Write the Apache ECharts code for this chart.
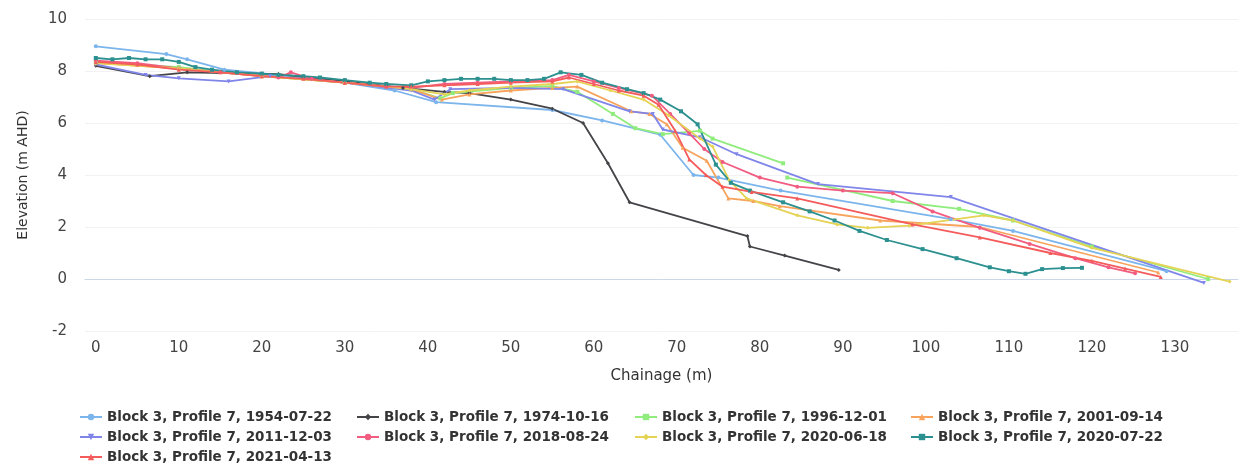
<!DOCTYPE html>
<html>
<head>
<meta charset="utf-8">
<script src="https://cdn.jsdelivr.net/npm/echarts@6/dist/echarts.min.js"></script>
<style>
html,body{margin:0;padding:0;background:#fff;}
#chart{width:1241px;height:469px;}
</style>
</head>
<body>
<div id="chart"></div>
<script>
// ---- data ----
const seriesNames = [
  "Block 3, Profile 7, 1954-07-22",
  "Block 3, Profile 7, 1974-10-16",
  "Block 3, Profile 7, 1996-12-01",
  "Block 3, Profile 7, 2001-09-14",
  "Block 3, Profile 7, 2011-12-03",
  "Block 3, Profile 7, 2018-08-24",
  "Block 3, Profile 7, 2020-06-18",
  "Block 3, Profile 7, 2020-07-22",
  "Block 3, Profile 7, 2021-04-13"
];
const xTickLabels = [0,10,20,30,40,50,60,70,80,90,100,110,120,130];

const p1954 = [[0,8.95],[8.5,8.65],[11,8.45],[15.5,8.05],[22,7.85],[30,7.55],[36,7.25],[41,6.8],[55,6.5],[61,6.1],[68,5.55],[72,4.0],[75,3.9],[82.5,3.4],[103,2.3],[110.5,1.85],[129,0.3]];
const p1974 = [[0,8.2],[6.5,7.8],[11,7.95],[22,7.88],[30,7.6],[37,7.35],[42,7.2],[45,7.15],[50,6.9],[55,6.55],[58.7,6.0],[61.7,4.45],[64.3,2.95],[78.5,1.65],[78.8,1.25],[83,0.9],[89.5,0.35]];
const p1996 = [[0,8.35],[10,8.15],[20,7.8],[30,7.55],[38,7.3],[41.5,6.95],[43,7.15],[50,7.35],[55,7.42],[58,7.2],[62.3,6.35],[65,5.8],[68.3,5.57],[72.8,5.7],[74.3,5.4],[82.8,4.45],[83,null],[83.3,3.9],[96,3.0],[104,2.7],[110.5,2.25],[120,1.25],[134,0.0]];
const p2001 = [[0,8.3],[10,8.1],[20,7.8],[30,7.55],[38,7.3],[41.7,6.9],[45,7.1],[50,7.25],[55,7.35],[58,7.4],[64.5,6.45],[66.7,6.35],[68.8,5.95],[70.7,5.05],[73.6,4.55],[76.2,3.1],[79.2,3.0],[82.4,2.8],[94.5,2.25],[106.5,2.0],[128,0.25]];
const p2011 = [[0,8.25],[6,7.85],[10,7.72],[16,7.6],[21,7.8],[30,7.55],[38,7.25],[40.8,6.9],[42.7,7.3],[50,7.35],[56.3,7.3],[64.3,6.45],[67.1,6.35],[68.3,5.75],[72.8,5.45],[77.2,4.8],[87,3.65],[103,3.15],[133.5,-0.15]];
const p2018 = [[0,8.4],[5,8.3],[10,8.1],[15,7.95],[20,7.8],[22,7.75],[23.5,7.95],[26,7.7],[30,7.55],[35,7.4],[38,7.35],[42,7.5],[46,7.55],[50,7.6],[55,7.65],[57,7.85],[60,7.6],[63,7.35],[67,7.05],[69.2,6.35],[71.5,5.6],[73.3,5.0],[75.5,4.5],[80,3.9],[84.5,3.55],[90,3.4],[96,3.3],[100.8,2.6],[106.5,1.97],[112.5,1.35],[118,0.8],[122,0.45],[125.2,0.22]];
const p2020a = [[0,8.3],[10,8.1],[20,7.8],[30,7.55],[38,7.3],[42,7.1],[45,7.25],[50,7.4],[55,7.5],[58,7.6],[62,7.25],[66,6.9],[69,6.3],[72.8,5.4],[74.3,5.1],[76.3,3.8],[78.4,3.1],[84.5,2.45],[89.3,2.1],[93,1.97],[98,2.05],[107,2.45],[110.5,2.25],[120,1.2],[136.6,-0.1]];
const p2020b = [[0,8.5],[2,8.45],[4,8.5],[6,8.45],[8,8.45],[10,8.35],[12,8.15],[14,8.05],[17,7.95],[20,7.9],[22,7.85],[25,7.8],[27,7.75],[30,7.65],[33,7.55],[35,7.5],[38,7.45],[40,7.6],[42,7.65],[44,7.7],[46,7.7],[48,7.7],[50,7.65],[52,7.65],[54,7.7],[56,7.95],[58.5,7.85],[61,7.55],[64,7.3],[66,7.15],[68,6.9],[70.5,6.45],[72.5,5.95],[74.7,4.4],[76.5,3.7],[78.8,3.4],[82.8,2.95],[86,2.6],[89,2.25],[92,1.85],[95.3,1.5],[99.6,1.15],[103.7,0.8],[107.7,0.45],[110,0.3],[112,0.2],[114,0.38],[116.5,0.42],[118.8,0.43]];
const p2021 = [[0,8.35],[5,8.25],[10,8.05],[15,7.95],[20,7.8],[25,7.7],[30,7.55],[35,7.4],[38,7.4],[42,7.45],[46,7.5],[50,7.55],[55,7.6],[57,7.75],[60,7.5],[63,7.25],[66,7.05],[67.8,6.7],[69.8,5.7],[71.5,4.6],[73.5,4.0],[75.5,3.55],[79,3.35],[84.5,3.1],[98.4,2.1],[106.5,1.6],[115,1.0],[120,0.7],[124,0.4],[128.3,0.08]];

const seriesData = [p1954,p1974,p1996,p2001,p2011,p2018,p2020a,p2020b,p2021];
const colors = ["#7cb5ec","#434348","#90ed7d","#f7a35c","#8085e9","#f15c80","#e4d354","#2b908f","#f45b5b"];
const symbols = ["circle","diamond","rect","triangle","path://M0,0L10,0L5,10Z","circle","diamond","rect","triangle"];

const chart = echarts.init(document.getElementById('chart'), null, {renderer:'canvas'});
const legendCols = [[0,4,8],[1,5],[2,6],[3,7]];
const legendLeft = [79, 356, 634, 910];
const legends = legendCols.map((col,i)=>({
  orient:'vertical', left:legendLeft[i], top:410, height:60, padding:0,
  itemGap:6, itemWidth:22, itemHeight:8,
  data: col.map(k=>seriesNames[k]),
  textStyle:{fontFamily:'DejaVu Sans', fontWeight:'bold', fontSize:13.5, lineHeight:14, color:'#333'}
}));

chart.setOption({
  animation:false,
  color: colors,
  grid:{left:85, right:3, top:19, bottom:138},
  legend: legends,
  xAxis:{
    type:'value', min:-1.3, max:137.6,
    name:'Chainage (m)', nameLocation:'middle', nameGap:38,
    nameTextStyle:{fontFamily:'DejaVu Sans', fontSize:15, color:'#333'},
    axisLine:{show:true, lineStyle:{color:'#ccd6eb', width:1}},
    axisTick:{show:false},
    splitLine:{show:false},
    axisLabel:{customValues:xTickLabels, fontFamily:'DejaVu Sans', fontSize:15, color:'#444', margin:10}
  },
  yAxis:{
    type:'value', min:-2, max:10, interval:2,
    name:'Elevation (m AHD)', nameLocation:'middle', nameGap:55,
    nameTextStyle:{fontFamily:'DejaVu Sans', fontSize:14, color:'#333'},
    axisLine:{show:false}, axisTick:{show:false},
    splitLine:{show:true, lineStyle:{color:'#f2f2f2', width:1}},
    axisLabel:{fontFamily:'DejaVu Sans', fontSize:15, color:'#444', margin:18}
  },
  series: seriesData.map((d,i)=>({
    name: seriesNames[i], type:'line', data:d,
    symbol: symbols[i], symbolSize:4, showSymbol:true,
    lineStyle:{width:1.8, color:colors[i]},
    itemStyle:{color:colors[i]},
    connectNulls:false
  }))
});
</script>
</body>
</html>
